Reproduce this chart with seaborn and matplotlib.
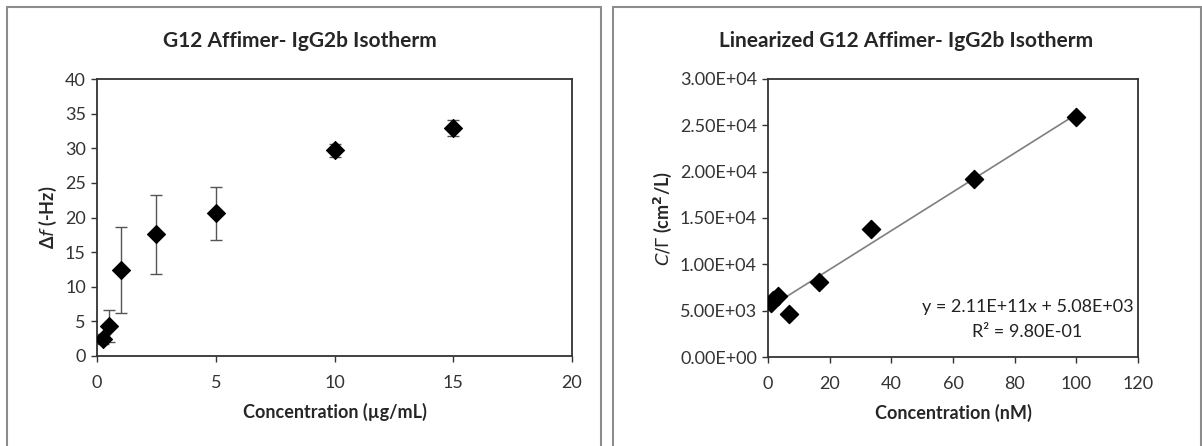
import numpy as np
import pandas as pd
import seaborn as sns
import matplotlib.pyplot as plt
from matplotlib.patches import Rectangle
from matplotlib.ticker import FuncFormatter

# ---- data ----
conc_ug = [0.25, 0.5, 1.0, 2.5, 5.0, 10.0, 15.0]
df_hz = [2.5, 4.3, 12.4, 17.6, 20.6, 29.7, 32.9]
df_err = [0.7, 2.3, 6.2, 5.7, 3.8, 0.9, 1.2]

conc_nM = [1.0, 1.7, 3.3, 6.7, 16.7, 33.3, 66.7, 100.0]
c_over_gamma = [5800, 6100, 6600, 4600, 8100, 13800, 19200, 25900]

left_xticks = [0, 5, 10, 15, 20]
left_yticks = [0, 5, 10, 15, 20, 25, 30, 35, 40]
right_xticks = [0, 20, 40, 60, 80, 100, 120]
right_yticks = [0, 5000, 10000, 15000, 20000, 25000, 30000]

sns.set_theme(style="white")
plt.rcParams['font.family'] = ['Lato', 'DejaVu Sans']

W, H = 1202, 446
fig = plt.figure(figsize=(W / 100, H / 100), dpi=100)

def px(x0, y0, x1, y1):
    return [x0 / W, 1 - y1 / H, (x1 - x0) / W, (y1 - y0) / H]

# panel borders
for (x0, x1) in [(7, 601), (613, 1201)]:
    fig.patches.append(Rectangle((x0 / W, -0.05), (x1 - x0) / W, 1 - 7 / H + 0.05,
                                 transform=fig.transFigure, fill=False,
                                 edgecolor='#8c8c8c', linewidth=1.5))

ax1 = fig.add_axes(px(97, 79, 572, 356))
ax2 = fig.add_axes(px(768, 79, 1138, 357))

tick_col = '#333333'
TICK_FS = 13
LABEL_FS = 13
TITLE_FS = 15

# left plot
d1 = pd.DataFrame({'x': conc_ug, 'y': df_hz})
ax1.errorbar(conc_ug, df_hz, yerr=df_err, fmt='none', ecolor='#555555',
             elinewidth=1, capsize=4, capthick=1, zorder=2)
sns.scatterplot(data=d1, x='x', y='y', ax=ax1, marker='D', s=85, color='black',
                edgecolor='black', zorder=3)
ax1.set_xlim(0, 20)
ax1.set_ylim(0, 40)
ax1.set_xticks(left_xticks)
ax1.set_yticks(left_yticks)
ax1.set_xlabel('Concentration (µg/mL)', fontsize=LABEL_FS, fontweight='bold', labelpad=8)
ax1.set_ylabel(r'Δ$\it{f}$ (-Hz)', fontsize=LABEL_FS, fontweight='bold', labelpad=4)
fig.text(300 / W, 1 - 41 / H, 'G12 Affimer- IgG2b Isotherm', ha='center', va='center',
         fontsize=TITLE_FS, fontweight='bold')

# right plot
d2 = pd.DataFrame({'x': conc_nM, 'y': c_over_gamma})
sns.regplot(data=d2, x='x', y='y', ax=ax2, ci=None, truncate=True, marker='D',
            scatter_kws=dict(s=85, color='black', alpha=1, zorder=3),
            line_kws=dict(color='#7f7f7f', linewidth=1.2, zorder=2))
ax2.set_xlim(0, 120)
ax2.set_ylim(0, 30000)
ax2.set_xticks(right_xticks)
ax2.set_yticks(right_yticks)
ax2.yaxis.set_major_formatter(FuncFormatter(
    lambda v, p: ('%.2E' % v) if v else '0.00E+00'))
ax2.set_xlabel('Concentration (nM)', fontsize=LABEL_FS, fontweight='bold', labelpad=8)
ax2.set_ylabel(r'$\it{C/Γ}$ (cm$^{\mathbf{2}}$/L)', fontsize=LABEL_FS, fontweight='bold',
               labelpad=4)
ax2.text(0.988, 0.18, 'y = 2.11E+11x + 5.08E+03', transform=ax2.transAxes,
         ha='right', va='center', fontsize=13, color='#222222')
ax2.text(0.85, 0.09, 'R² = 9.80E-01', transform=ax2.transAxes,
         ha='right', va='center', fontsize=13, color='#222222')
fig.text(906 / W, 1 - 41 / H, 'Linearized G12 Affimer- IgG2b Isotherm', ha='center',
         va='center', fontsize=TITLE_FS, fontweight='bold')

for ax in (ax1, ax2):
    for s in ax.spines.values():
        s.set_color('#333333')
        s.set_linewidth(1.3)
    ax.tick_params(axis='both', labelsize=TICK_FS, colors=tick_col, length=4, width=1,
                   direction='out', bottom=True, left=True, pad=4)
    ax.tick_params(axis='x', pad=10)
    ax.grid(False)

fig.savefig('out.png', dpi=100, facecolor='white')
